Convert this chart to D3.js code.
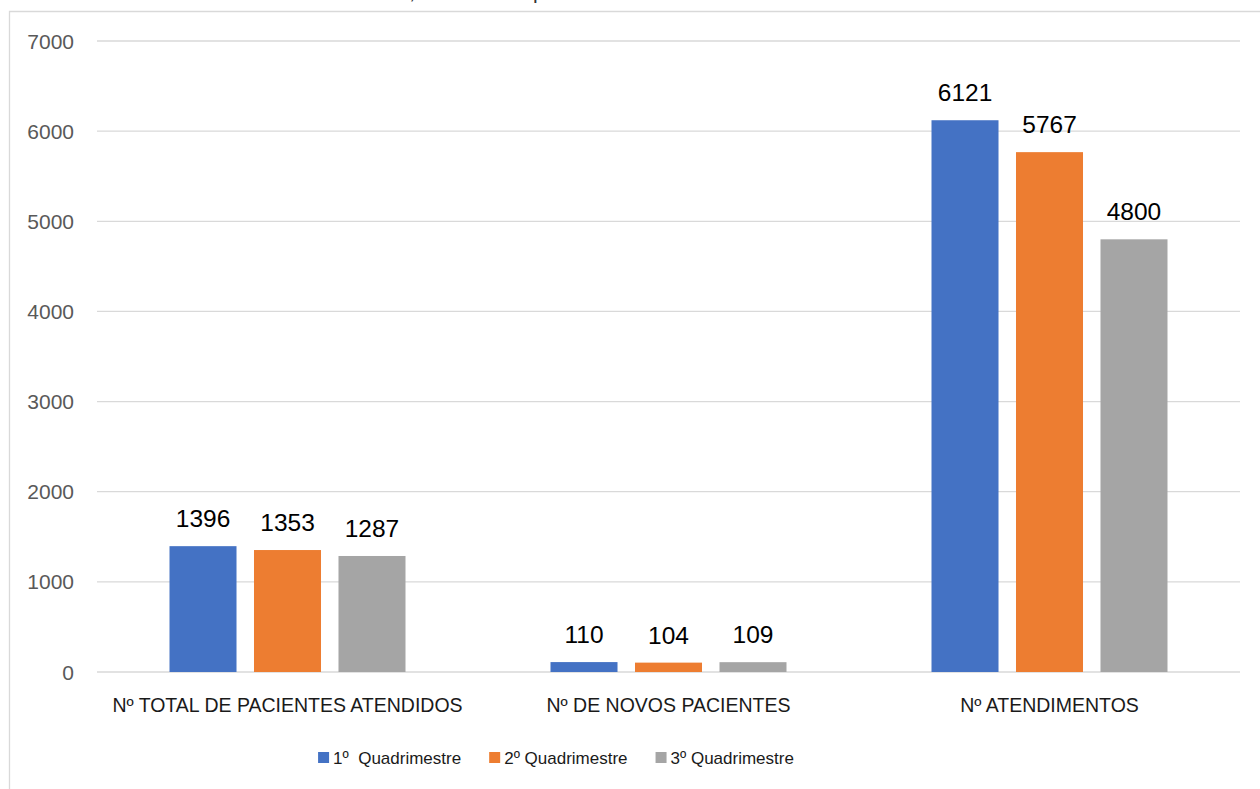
<!DOCTYPE html>
<html>
<head>
<meta charset="utf-8">
<script src="https://cdn.jsdelivr.net/npm/d3@7"></script>
<style>
  html, body { margin: 0; padding: 0; background: #fff; }
  svg { display: block; }
  text { font-family: "Liberation Sans", Arial, sans-serif; }
</style>
</head>
<body>
<svg id="chart" width="1260" height="789"></svg>
<script>
const categories = ["Nº TOTAL DE PACIENTES ATENDIDOS", "Nº DE NOVOS PACIENTES", "Nº ATENDIMENTOS"];
const seriesNames = ["1º  Quadrimestre", "2º Quadrimestre", "3º Quadrimestre"];
const q1 = [1396, 110, 6121];
const q2 = [1353, 104, 5767];
const q3 = [1287, 109, 4800];
const seriesValues = [q1, q2, q3];
const colors = ["#4472C4", "#ED7D31", "#A5A5A5"];
const yTicks = [0, 1000, 2000, 3000, 4000, 5000, 6000, 7000];
const titleParts = ["Número de atendimentos,", "em 2022 por"];

const svg = d3.select("#chart");
svg.append("rect").attr("width", 1260).attr("height", 789).attr("fill", "#fff");

// chart border (partially visible)
svg.append("path")
  .attr("d", "M9.5,789 L9.5,11.5 L1260,11.5")
  .attr("fill", "none").attr("stroke", "#d9d9d9").attr("stroke-width", 1.3);

// cut-off title (only descenders visible)
const title = svg.append("text").attr("y", -1.5).attr("font-size", 21).attr("fill", "#333");
const t1 = title.append("tspan").attr("x", 415).attr("text-anchor", "end").text(titleParts[0]);
const t2 = title.append("tspan").attr("x", 440).text(" " + titleParts[1]);
{
  const n = t2.node();
  const txt = n.textContent;
  const idx = txt.indexOf("p");
  const off = n.getSubStringLength(0, idx);
  t2.attr("x", 533 - off);
}

const plotLeft = 97, plotRight = 1240;
const y = d3.scaleLinear().domain([0, 7000]).range([672, 41]);
const x0 = d3.scaleBand().domain(categories).range([plotLeft, plotRight]).padding(0);
const inner = 236;
const x1 = d3.scaleBand().domain(seriesNames).range([-inner / 2, inner / 2]).paddingInner(0.207).paddingOuter(0);

// gridlines
svg.append("g").selectAll("line").data(yTicks).join("line")
  .attr("x1", plotLeft).attr("x2", plotRight)
  .attr("y1", d => y(d)).attr("y2", d => y(d))
  .attr("stroke", "#d9d9d9").attr("stroke-width", 1.3);

// y tick labels
svg.append("g").selectAll("text").data(yTicks).join("text")
  .attr("x", 74).attr("y", d => y(d)).attr("dy", "0.36em")
  .attr("text-anchor", "end").attr("font-size", 21).attr("fill", "#595959")
  .text(d => d);

// bars
const groups = svg.append("g").selectAll("g").data(categories).join("g")
  .attr("transform", c => `translate(${x0(c) + x0.bandwidth() / 2},0)`);

groups.each(function (c, ci) {
  const g = d3.select(this);
  seriesNames.forEach((s, si) => {
    const v = seriesValues[si][ci];
    g.append("rect")
      .attr("x", x1(s)).attr("width", x1.bandwidth())
      .attr("y", y(v)).attr("height", y(0) - y(v))
      .attr("fill", colors[si]);
    g.append("text")
      .attr("x", x1(s) + x1.bandwidth() / 2).attr("y", y(v) - 19)
      .attr("text-anchor", "middle").attr("font-size", 24.5).attr("fill", "#000")
      .text(v);
  });
  g.append("text")
    .attr("x", 0).attr("y", 712)
    .attr("text-anchor", "middle").attr("font-size", 19.5).attr("fill", "#1a1a1a")
    .text(c);
});

// legend
const legend = svg.append("g");
const items = [];
let cx = 0;
seriesNames.forEach((s, i) => {
  const it = legend.append("g");
  it.append("rect").attr("x", 0).attr("y", 752).attr("width", 11).attr("height", 11).attr("fill", colors[i]);
  const t = it.append("text").attr("x", 15).attr("y", 764).attr("font-size", 17).attr("fill", "#1a1a1a")
    .attr("xml:space", "preserve").style("white-space", "pre").text(s);
  const w = 15 + t.node().getComputedTextLength();
  items.push({ it, w });
});
const gap = 28;
const total = d3.sum(items, d => d.w) + gap * (items.length - 1);
let start = 556 - total / 2;
items.forEach(d => { d.it.attr("transform", `translate(${start},0)`); start += d.w + gap; });
</script>
</body>
</html>
